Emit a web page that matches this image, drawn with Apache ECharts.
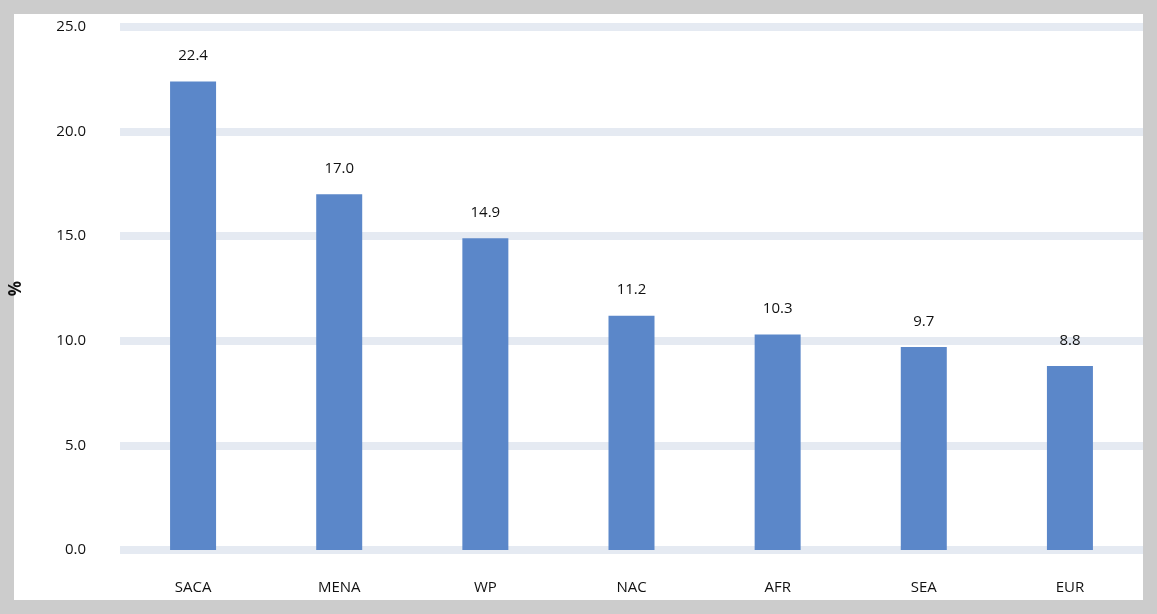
<!DOCTYPE html>
<html>
<head>
<meta charset="utf-8">
<script src="https://cdn.jsdelivr.net/npm/echarts@6/dist/echarts.min.js"></script>
<style>
  html, body { margin: 0; padding: 0; background: #cccccc; }
  #wrap { position: absolute; left: 14px; top: 14px; width: 1129px; height: 586px; background: #fff; }
  #chart { width: 1157px; height: 614px; position: absolute; left: 0; top: 0; }
</style>
</head>
<body>
<div id="wrap"></div>
<div id="chart"></div>
<script>
  const regions = ['SACA', 'MENA', 'WP', 'NAC', 'AFR', 'SEA', 'EUR'];
  const shares = [22.4, 17.0, 14.9, 11.2, 10.3, 9.7, 8.8];

  const chart = echarts.init(document.getElementById('chart'));
  chart.setOption({
    textStyle: { fontFamily: 'Open Sans' },
    grid: { left: 119, right: 14, top: 27, bottom: 64 },
    xAxis: {
      type: 'category',
      data: regions,
      axisLine: { show: false },
      axisTick: { show: false },
      axisLabel: { color: '#111', fontSize: 15, margin: 30 }
    },
    yAxis: {
      type: 'value',
      min: 0,
      max: 25,
      interval: 5,
      name: '%',
      nameLocation: 'middle',
      nameGap: 95,
      nameTextStyle: { color: '#111', fontSize: 17, fontWeight: 'bold' },
      axisLabel: { color: '#111', fontSize: 15, margin: 34, formatter: v => v.toFixed(1) },
      splitLine: { lineStyle: { color: '#e5eaf2', width: 8 } }
    },
    series: [{
      type: 'bar',
      data: shares,
      barWidth: 46,
      itemStyle: { color: '#5b87c9' },
      label: {
        show: true,
        position: 'top',
        distance: 18,
        color: '#111',
        fontSize: 15,
        formatter: p => p.value.toFixed(1)
      }
    }]
  });
</script>
</body>
</html>
